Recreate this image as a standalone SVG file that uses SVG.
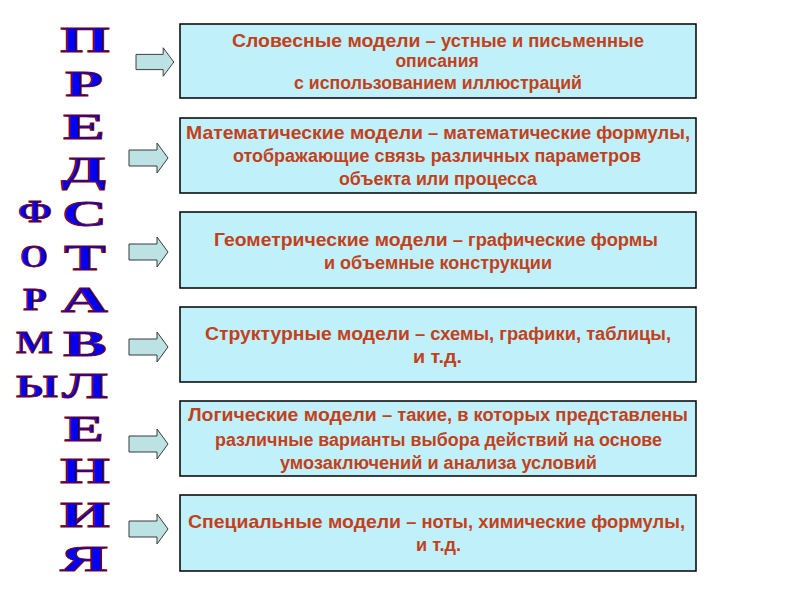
<svg xmlns="http://www.w3.org/2000/svg" width="800" height="600" viewBox="0 0 800 600">
<defs>
<style>
.box{fill:#C0F1FB;stroke:#000;stroke-width:1.5}
.t{font-family:"Liberation Sans",Arial,sans-serif;font-weight:bold;font-size:17.5px;fill:#C2401A;text-anchor:middle}
.h{font-size:18.5px}
.arr{fill:#BDE2E4;stroke:#3a3a3a;stroke-width:1}
.w{font-family:"Liberation Serif","Times New Roman",serif;font-weight:bold;fill:#0000F0;stroke:#7A0000;stroke-width:0.8;text-anchor:middle}
.w1{font-size:35px}
.w2{font-size:31px}
</style>
<path id="arrow" d="M0,-8 H28 V-15 L39,0 L28,15 V8 H0 Z"/>
</defs>
<rect width="800" height="600" fill="#fff"/>

<g id="word-formy">
<text class="w w2" x="35" y="222" textLength="34" lengthAdjust="spacingAndGlyphs">Ф</text>
<text class="w w2" x="34" y="267" textLength="28" lengthAdjust="spacingAndGlyphs">О</text>
<text class="w w2" x="35" y="310" textLength="24" lengthAdjust="spacingAndGlyphs">Р</text>
<text class="w w2" x="34.5" y="353" textLength="37" lengthAdjust="spacingAndGlyphs">М</text>
<text class="w w2" x="37" y="397" textLength="42" lengthAdjust="spacingAndGlyphs">Ы</text>
</g>

<g id="word-predstavleniya">
<text class="w w1" x="85" y="52" textLength="50" lengthAdjust="spacingAndGlyphs">П</text>
<text class="w w1" x="84" y="95.5" textLength="38" lengthAdjust="spacingAndGlyphs">Р</text>
<text class="w w1" x="84" y="139" textLength="42" lengthAdjust="spacingAndGlyphs">Е</text>
<text class="w w1" x="83.5" y="182" textLength="45" lengthAdjust="spacingAndGlyphs">Д</text>
<text class="w w1" x="84.5" y="226" textLength="45" lengthAdjust="spacingAndGlyphs">С</text>
<text class="w w1" x="85" y="270" textLength="42" lengthAdjust="spacingAndGlyphs">Т</text>
<text class="w w1" x="84.5" y="312" textLength="47" lengthAdjust="spacingAndGlyphs">А</text>
<text class="w w1" x="85" y="356" textLength="44" lengthAdjust="spacingAndGlyphs">В</text>
<text class="w w1" x="85" y="398" textLength="46" lengthAdjust="spacingAndGlyphs">Л</text>
<text class="w w1" x="84" y="441" textLength="40" lengthAdjust="spacingAndGlyphs">Е</text>
<text class="w w1" x="85" y="483" textLength="50" lengthAdjust="spacingAndGlyphs">Н</text>
<text class="w w1" x="85" y="527" textLength="50" lengthAdjust="spacingAndGlyphs">И</text>
<text class="w w1" x="84" y="571" textLength="48" lengthAdjust="spacingAndGlyphs">Я</text>
</g>

<g id="connectors">
<use href="#arrow" class="arr" transform="translate(136,62) scale(0.97,0.95)"/>
<use href="#arrow" class="arr" transform="translate(129,158)"/>
<use href="#arrow" class="arr" transform="translate(129,252)"/>
<use href="#arrow" class="arr" transform="translate(129,347)"/>
<use href="#arrow" class="arr" transform="translate(129,444)"/>
<use href="#arrow" class="arr" transform="translate(129,529)"/>
</g>

<g id="node-verbal">
<rect class="box" x="180" y="24" width="516" height="74"/>
<text class="t" x="438" y="47" textLength="412" lengthAdjust="spacingAndGlyphs"><tspan class="h">Словесные модели</tspan> – устные и письменные</text>
<text class="t" x="437" y="67">описания</text>
<text class="t" x="438" y="89" textLength="288" lengthAdjust="spacingAndGlyphs">с использованием иллюстраций</text>
</g>

<g id="node-math">
<rect class="box" x="180" y="118" width="516" height="75"/>
<text class="t" x="438" y="139" textLength="504" lengthAdjust="spacingAndGlyphs"><tspan class="h">Математические модели</tspan> – математические формулы,</text>
<text class="t" x="437" y="162" textLength="408" lengthAdjust="spacingAndGlyphs">отображающие связь различных параметров</text>
<text class="t" x="438" y="185" textLength="198" lengthAdjust="spacingAndGlyphs">объекта или процесса</text>
</g>

<g id="node-geom">
<rect class="box" x="180" y="212" width="516" height="76"/>
<text class="t" x="436" y="246" textLength="444" lengthAdjust="spacingAndGlyphs"><tspan class="h">Геометрические модели</tspan> – графические формы</text>
<text class="t" x="438" y="269" textLength="228" lengthAdjust="spacingAndGlyphs">и объемные конструкции</text>
</g>

<g id="node-struct">
<rect class="box" x="180" y="307" width="516" height="75"/>
<text class="t" x="438" y="340" textLength="466" lengthAdjust="spacingAndGlyphs"><tspan class="h">Структурные модели</tspan> – схемы, графики, таблицы,</text>
<text class="t" x="437.5" y="363" textLength="49" lengthAdjust="spacingAndGlyphs">и т.д.</text>
</g>

<g id="node-logic">
<rect class="box" x="180" y="401" width="516" height="75"/>
<text class="t" x="438" y="421" textLength="500" lengthAdjust="spacingAndGlyphs"><tspan class="h">Логические модели</tspan> – такие, в которых представлены</text>
<text class="t" x="438.5" y="446" textLength="447" lengthAdjust="spacingAndGlyphs">различные варианты выбора действий на основе</text>
<text class="t" x="438.5" y="469" textLength="317" lengthAdjust="spacingAndGlyphs">умозаключений и анализа условий</text>
</g>

<g id="node-special">
<rect class="box" x="180" y="495" width="516" height="76"/>
<text class="t" x="436.5" y="528" textLength="497" lengthAdjust="spacingAndGlyphs"><tspan class="h">Специальные модели</tspan> – ноты, химические формулы,</text>
<text class="t" x="438.5" y="551" textLength="45" lengthAdjust="spacingAndGlyphs">и т.д.</text>
</g>
</svg>
